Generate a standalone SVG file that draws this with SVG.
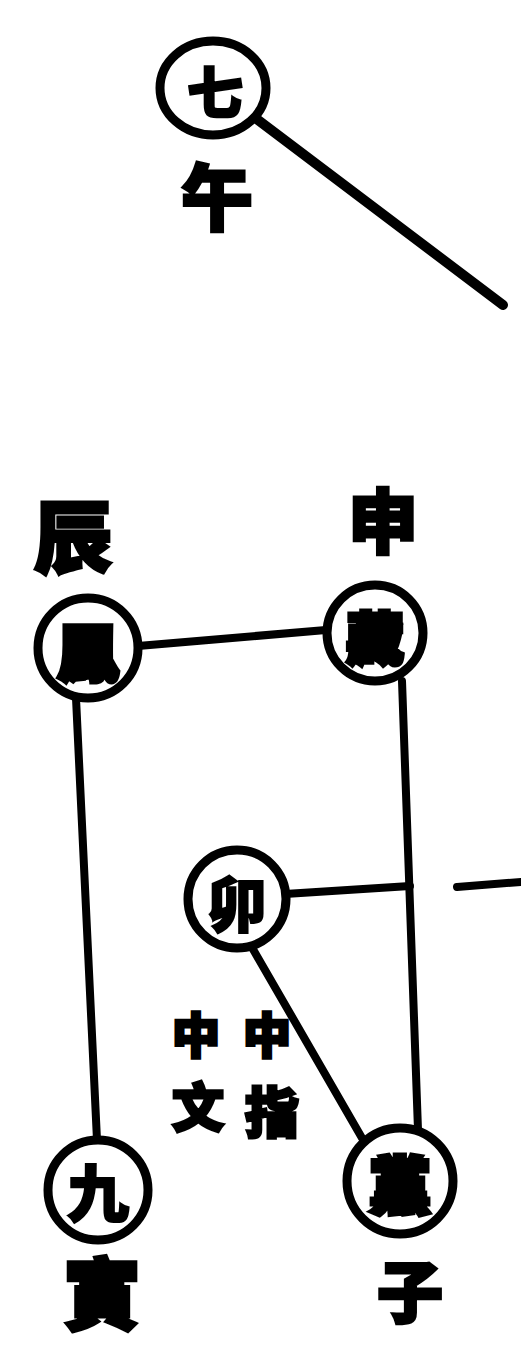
<svg xmlns="http://www.w3.org/2000/svg" width="521" height="1347" viewBox="0 0 521 1347">
<style>
.ln{stroke:#000;stroke-width:8;stroke-linecap:round;fill:none}
.ring{stroke:#000;stroke-width:9;fill:#fff}
.t{font-family:"Noto Sans CJK SC","Noto Sans CJK TC",sans-serif;font-weight:900;fill:#000;stroke:#000;text-anchor:middle;dominant-baseline:central}
.lab{stroke-width:3}
.in{stroke-width:2}
.dense{stroke-width:5}
</style>
<rect width="521" height="1347" fill="#fff"/>
<g id="connectors">
<line class="ln" x1="258" y1="120" x2="503" y2="305" style="stroke-width:10"/>
<line class="ln" x1="138" y1="646" x2="326" y2="630"/>
<line class="ln" x1="76" y1="698" x2="97" y2="1140"/>
<line class="ln" x1="402" y1="681" x2="418" y2="1130"/>
<line class="ln" x1="285" y1="894" x2="410" y2="886"/>
<line class="ln" x1="457" y1="887" x2="521" y2="882"/>
<line class="ln" x1="250" y1="944" x2="362" y2="1138"/>
</g>
<g id="node-wu">
<ellipse class="ring" cx="213" cy="88" rx="53" ry="47"/>
<text class="t in" x="215" y="88" font-size="56">七</text>
<text class="t lab" x="217" y="192" font-size="72">午</text>
</g>
<g id="node-chen">
<circle class="ring" cx="88" cy="648" r="50"/>
<text class="t dense" x="88" y="649" font-size="60">鳳</text>
<text class="t lab" x="73" y="533" font-size="78">辰</text>
</g>
<g id="node-shen">
<circle class="ring" cx="375" cy="633" r="48"/>
<text class="t dense" x="375" y="634" font-size="56">藏</text>
<text class="t lab" x="383" y="517" font-size="70">申</text>
</g>
<g id="node-mao">
<circle class="ring" cx="237" cy="899" r="49"/>
<text class="t in" x="237" y="900" font-size="60">卯</text>
</g>
<g id="node-zhongzhi">
<text class="t lab" x="196" y="1032" font-size="48">中</text>
<text class="t lab" x="198" y="1104" font-size="52">文</text>
<text class="t lab" x="267" y="1032" font-size="48">中</text>
<text class="t lab" x="272" y="1109" font-size="54">指</text>
</g>
<g id="node-yin">
<circle class="ring" cx="98" cy="1190" r="50"/>
<text class="t in" x="98" y="1190" font-size="62">九</text>
<text class="t lab" x="102" y="1290" font-size="78">寅</text>
</g>
<g id="node-zi">
<circle class="ring" cx="400" cy="1181" r="53"/>
<text class="t dense" x="400" y="1182" font-size="62">黨</text>
<text class="t lab" x="410" y="1288" font-size="66">子</text>
</g>
</svg>
